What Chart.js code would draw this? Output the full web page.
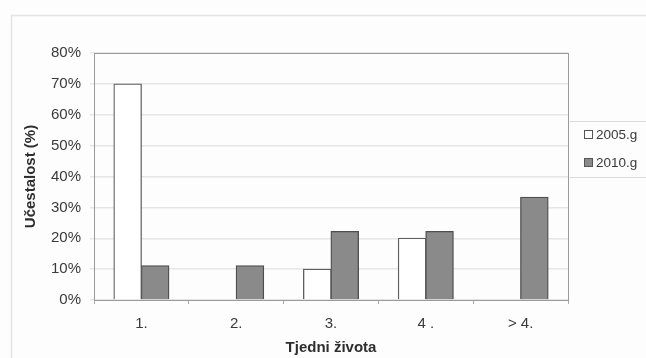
<!DOCTYPE html>
<html>
<head>
<meta charset="utf-8">
<script src="https://cdn.jsdelivr.net/npm/chart.js@4.4.1/dist/chart.umd.min.js"></script>
<style>
  html, body { margin: 0; padding: 0; background: #fdfdfd; }
  #wrap { width: 646px; height: 358px; position: relative; }
</style>
</head>
<body>
<div id="wrap"><canvas id="c" width="646" height="358"></canvas></div>
<script>
// Weeks of life and share of cases per year
const categories = ['1.', '2.', '3.', '4 .', '> 4.'];
const seriesNames = ['2005.g', '2010.g'];
const values2005 = [70, 0, 10, 20, 0];
const values2010 = [11.1, 11.1, 22.2, 22.2, 33.3];
const yTicks = [0, 10, 20, 30, 40, 50, 60, 70, 80];

const FONT = "'Liberation Sans', Arial, sans-serif";
const TEXT = '#3a3a3a';

// Frames: outer chart border, plot-area border, and the legend panel on the right
const framePlugin = {
  id: 'frames',
  beforeDraw(chart) {
    const ctx = chart.ctx;
    ctx.save();
    ctx.strokeStyle = '#e4e4e4';
    ctx.lineWidth = 1.5;
    ctx.beginPath();
    ctx.moveTo(11.5, 358);
    ctx.lineTo(11.5, 15.5);
    ctx.lineTo(646, 15.5);
    ctx.stroke();
    ctx.restore();
  },
  afterDatasetsDraw(chart) {
    const { ctx, chartArea: a } = chart;
    ctx.save();
    ctx.strokeStyle = '#9a9a9a';
    ctx.lineWidth = 1;
    ctx.strokeRect(Math.round(a.left) + 0.5, Math.round(a.top) + 0.5,
                   Math.round(a.right - a.left), Math.round(a.bottom - a.top));
    ctx.restore();
  },
  afterDraw(chart) {
    const ctx = chart.ctx;
    const ds = chart.data.datasets;
    const x0 = Math.round(chart.chartArea.right) + 1.5;
    ctx.save();
    // legend panel
    ctx.strokeStyle = '#dcdcdc';
    ctx.lineWidth = 1;
    ctx.beginPath();
    ctx.moveTo(646, 121.5);
    ctx.lineTo(x0, 121.5);
    ctx.moveTo(x0, 177.5);
    ctx.lineTo(646, 177.5);
    ctx.stroke();
    ctx.font = '13.5px ' + FONT;
    ctx.textBaseline = 'middle';
    ds.forEach((d, i) => {
      const cy = 135 + i * 28;
      ctx.fillStyle = d.backgroundColor;
      ctx.fillRect(584.5, cy - 4.5, 8, 8);
      ctx.strokeStyle = '#555';
      ctx.strokeRect(584.5, cy - 4.5, 8, 8);
      ctx.fillStyle = TEXT;
      ctx.fillText(d.label, 596, cy + 0.5);
    });
    ctx.restore();
  }
};

new Chart(document.getElementById('c'), {
  type: 'bar',
  data: {
    labels: categories,
    datasets: [
      { label: seriesNames[0], data: values2005, backgroundColor: '#ffffff',
        borderColor: '#5e5e5e', borderWidth: 1.3 },
      { label: seriesNames[1], data: values2010, backgroundColor: '#8a8a8a',
        borderColor: '#4e4e4e', borderWidth: 1.3 }
    ]
  },
  options: {
    responsive: false,
    animation: false,
    events: [],
    layout: { padding: { left: 0, right: 78, top: 53, bottom: 0 } },
    datasets: { bar: { barPercentage: 1, categoryPercentage: 0.58, inflateAmount: 0.5 } },
    plugins: { legend: { display: false }, tooltip: { enabled: false } },
    scales: {
      x: {
        afterFit(s) { s.height = 58; },
        grid: { drawOnChartArea: false, drawTicks: true, tickLength: 4, color: '#a8a8a8' },
        border: { display: false },
        ticks: { color: TEXT, font: { family: FONT, size: 15 }, padding: 11 },
        title: { display: true, text: 'Tjedni života', color: '#2e2e2e',
                 font: { family: FONT, size: 15, weight: 'bold' }, padding: { top: 0, bottom: 1 } }
      },
      y: {
        min: 0, max: 80,
        afterFit(s) { s.width = 94; },
        afterBuildTicks(s) { s.ticks = yTicks.map(v => ({ value: v })); },
        grid: { color: '#e6e6e6', lineWidth: 1.5, tickLength: 4 },
        border: { display: false },
        ticks: { color: TEXT, font: { family: FONT, size: 15 }, padding: 9,
                 callback: v => v + '%' },
        title: { display: true, text: 'Učestalost (%)', color: '#2e2e2e',
                 font: { family: FONT, size: 15, weight: 'bold' }, padding: { top: 22, bottom: 0 } }
      }
    }
  },
  plugins: [framePlugin]
});
</script>
</body>
</html>
